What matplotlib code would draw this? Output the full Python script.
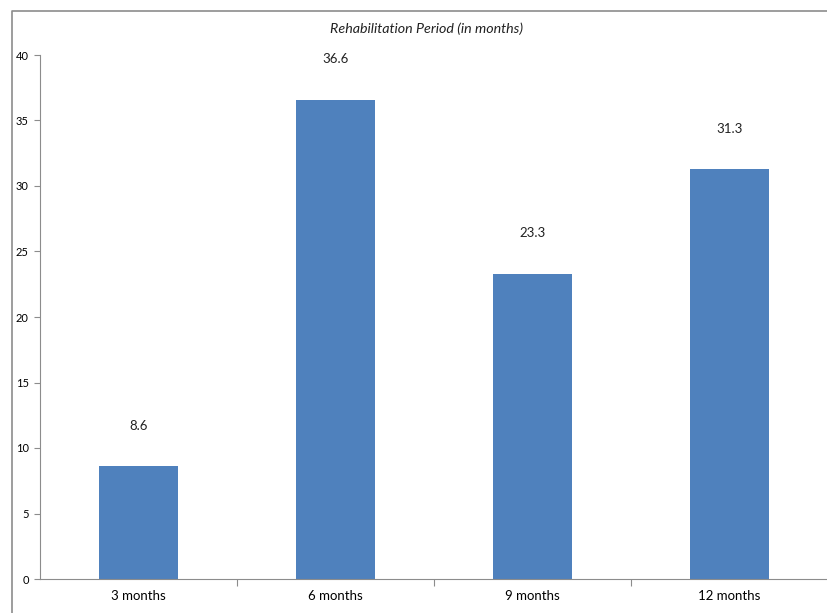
import matplotlib.pyplot as plt
from matplotlib.lines import Line2D

categories = ["3 months", "6 months", "9 months", "12 months"]
values = [8.6, 36.6, 23.3, 31.3]
y_ticks = [0, 5, 10, 15, 20, 25, 30, 35, 40]

plt.rcParams['font.family'] = ['Lato', 'DejaVu Sans']

fig = plt.figure(figsize=(8.27, 6.13), dpi=100)
W, H = 827, 613

# outer chart frame: only top and left edges are visible in the crop
fy = 1 - 10.5 / H
fx = 11.5 / W
fig.lines.append(Line2D([fx, fx, 1.0], [0, fy, fy], transform=fig.transFigure,
                        color="#8c8c8c", linewidth=1.2))

ax = fig.add_axes([40 / W, 34 / H, 788 / W, 524 / H])
x = range(len(categories))
ax.bar(x, values, width=0.4, color="#4F81BD")

for xi, v in zip(x, values):
    ax.annotate(f"{v:.1f}", (xi, v), xytext=(0, 29), textcoords="offset points",
                ha="center", va="center", fontsize=9.5, color="#222222")

ax.set_xlim(-0.5, len(categories) - 0.5)
ax.set_ylim(0, 40)
ax.set_yticks(y_ticks)
ax.set_xticks([i + 0.5 for i in range(len(categories) - 1)])
ax.set_xticklabels([])
ax.set_xticks(list(x), minor=True)
ax.set_xticklabels(categories, minor=True, fontsize=9.5)
ax.tick_params(axis="x", which="minor", length=0, pad=8)
ax.tick_params(axis="x", which="major", length=5, color="#8c8c8c")
ax.tick_params(axis="y", length=4, color="#8c8c8c", labelsize=8, pad=4)

for s in ["top", "right"]:
    ax.spines[s].set_visible(False)
for s in ["left", "bottom"]:
    ax.spines[s].set_color("#8c8c8c")

fig.text(427 / W, 1 - 29 / H, "Rehabilitation Period (in months)",
         ha="center", va="center", fontsize=10.3, style="italic", color="#222222")

fig.savefig("out.png", dpi=100)
